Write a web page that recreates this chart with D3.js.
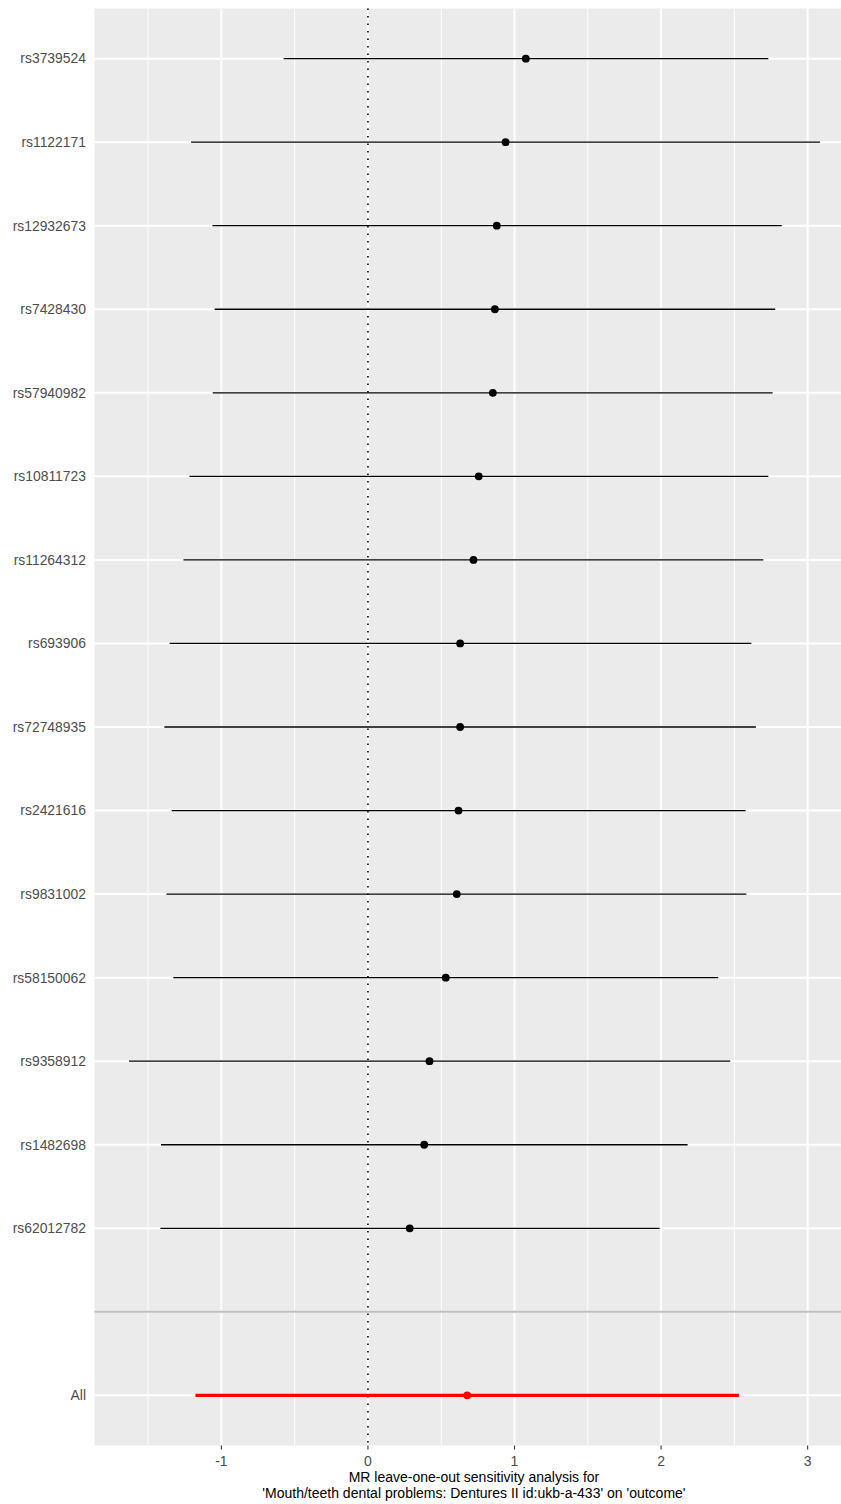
<!DOCTYPE html>
<html>
<head>
<meta charset="utf-8">
<script src="https://cdn.jsdelivr.net/npm/d3@7"></script>
<style>
  html, body { margin: 0; padding: 0; background: #fff; }
  svg { display: block; font-family: "Liberation Sans", Arial, Helvetica, sans-serif; }
</style>
</head>
<body>
<div id="chart"></div>
<script>
// Leave-one-out MR estimates: one row per SNP left out, plus the combined estimate
const snps = ["rs3739524", "rs1122171", "rs12932673", "rs7428430", "rs57940982",
  "rs10811723", "rs11264312", "rs693906", "rs72748935", "rs2421616",
  "rs9831002", "rs58150062", "rs9358912", "rs1482698", "rs62012782"];
const estimate = [1.077, 0.939, 0.879, 0.866, 0.852, 0.756, 0.720, 0.629, 0.629, 0.618,
  0.606, 0.531, 0.420, 0.384, 0.285];
const lower = [-0.575, -1.207, -1.061, -1.046, -1.059, -1.218, -1.259, -1.353, -1.389, -1.339,
  -1.375, -1.328, -1.630, -1.412, -1.416];
const upper = [2.732, 3.084, 2.823, 2.779, 2.761, 2.732, 2.698, 2.616, 2.647, 2.577,
  2.582, 2.390, 2.472, 2.181, 1.990];

const allLabel = "All";
const allEstimate = 0.677;
const allLower = -1.177;
const allUpper = 2.531;

const xTicks = [-1, 0, 1, 2, 3];
const xMinor = [-1.5, -0.5, 0.5, 1.5, 2.5];
const titleLines = ["MR leave-one-out sensitivity analysis for",
  "'Mouth/teeth dental problems: Dentures II id:ukb-a-433' on 'outcome'"];

const W = 841, H = 1504;
const panel = { left: 94.5, top: 8.5, width: 760, bottom: 1445.5 };

const rows = snps.map((s, i) => ({ snp: s, b: estimate[i], lo: lower[i], hi: upper[i], all: false }));
rows.push({ snp: allLabel, b: allEstimate, lo: allLower, hi: allUpper, all: true });

// x scale: data range with 5% expansion on each side
const xmin = d3.min(rows, d => d.lo), xmax = d3.max(rows, d => d.hi);
const pad = (xmax - xmin) * 0.05;
const x = d3.scaleLinear()
  .domain([xmin - pad, xmax + pad])
  .range([panel.left, panel.left + panel.width]);

// y scale: SNP rows, an empty separator row, then the combined row
const yDomain = snps.concat([""], [allLabel]);
const y = d3.scalePoint()
  .domain(yDomain)
  .range([panel.top, panel.bottom])
  .padding(0.6);

const svg = d3.select("#chart").append("svg")
  .attr("width", W).attr("height", H);

svg.append("rect")
  .attr("x", panel.left).attr("y", panel.top)
  .attr("width", panel.width).attr("height", panel.bottom - panel.top)
  .attr("fill", "#EBEBEB");

const grid = svg.append("g");
grid.selectAll("line.minor").data(xMinor).join("line")
  .attr("x1", d => x(d)).attr("x2", d => x(d))
  .attr("y1", panel.top).attr("y2", panel.bottom)
  .attr("stroke", "#fff").attr("stroke-width", 1);
grid.selectAll("line.major").data(xTicks).join("line")
  .attr("x1", d => x(d)).attr("x2", d => x(d))
  .attr("y1", panel.top).attr("y2", panel.bottom)
  .attr("stroke", "#fff").attr("stroke-width", 2);
grid.selectAll("line.row").data(yDomain).join("line")
  .attr("x1", panel.left).attr("x2", panel.left + panel.width)
  .attr("y1", d => y(d)).attr("y2", d => y(d))
  .attr("stroke", "#fff").attr("stroke-width", 2);

// separator line at the empty row
svg.append("line")
  .attr("x1", panel.left).attr("x2", panel.left + panel.width)
  .attr("y1", y("")).attr("y2", y(""))
  .attr("stroke", "#BEBEBE").attr("stroke-width", 2);

// null-effect reference line
svg.append("line")
  .attr("x1", x(0)).attr("x2", x(0))
  .attr("y1", panel.top).attr("y2", panel.bottom)
  .attr("stroke", "#000").attr("stroke-width", 1.6)
  .attr("stroke-dasharray", "1.6,5.9");

const marks = svg.append("g");
marks.selectAll("line.ci").data(rows).join("line")
  .attr("x1", d => x(d.lo)).attr("x2", d => x(d.hi))
  .attr("y1", d => y(d.snp)).attr("y2", d => y(d.snp))
  .attr("stroke", d => d.all ? "#FF0000" : "#000")
  .attr("stroke-width", d => d.all ? 3.4 : 1.3);
marks.selectAll("circle").data(rows).join("circle")
  .attr("cx", d => x(d.b)).attr("cy", d => y(d.snp))
  .attr("r", 3.9)
  .attr("fill", d => d.all ? "#FF0000" : "#000");

// y labels
svg.append("g").selectAll("text").data(yDomain.filter(d => d !== "")).join("text")
  .attr("x", 86).attr("y", d => y(d))
  .attr("dy", "0.35em")
  .attr("text-anchor", "end")
  .attr("font-size", 13.9)
  .attr("fill", "#4D4D4D")
  .text(d => d);

// x axis ticks and labels
const xa = svg.append("g");
xa.selectAll("line").data(xTicks).join("line")
  .attr("x1", d => x(d)).attr("x2", d => x(d))
  .attr("y1", panel.bottom).attr("y2", panel.bottom + 4)
  .attr("stroke", "#333").attr("stroke-width", 1.1);
xa.selectAll("text").data(xTicks).join("text")
  .attr("x", d => x(d)).attr("y", 1466)
  .attr("text-anchor", "middle")
  .attr("font-size", 14)
  .attr("fill", "#4D4D4D")
  .text(d => d < 0 ? "-" + Math.abs(d) : String(d));

// axis title
svg.append("g").selectAll("text").data(titleLines).join("text")
  .attr("x", x(0) + 106).attr("y", (d, i) => 1482 + i * 16)
  .attr("text-anchor", "middle")
  .attr("font-size", 14)
  .attr("fill", "#000")
  .text(d => d);
</script>
</body>
</html>
